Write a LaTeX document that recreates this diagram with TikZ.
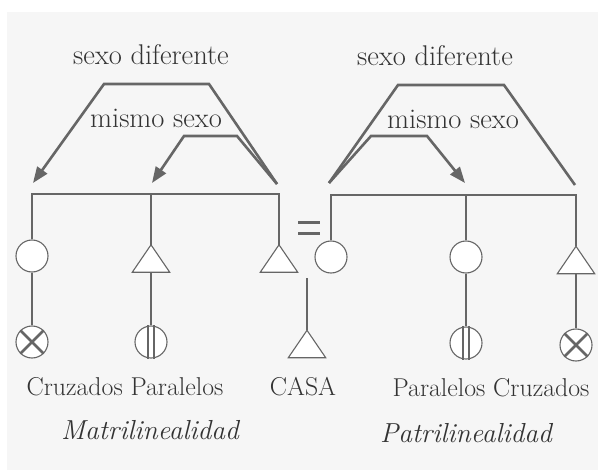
\documentclass[tikz,border=0pt]{standalone}
\usetikzlibrary{arrows.meta}
\definecolor{lc}{HTML}{666666}
\definecolor{tc}{HTML}{333333}
\definecolor{bg}{HTML}{F6F6F6}
\begin{document}
\begin{tikzpicture}[x=1pt,y=-1pt,
  ln/.style={line width=2.6pt, draw=lc, line join=miter},
  arr/.style={ln, -{Triangle[length=16pt,width=12pt]}},
  person/.style={circle, draw=lc, line width=1.1pt, fill=white, minimum size=32pt, inner sep=0pt},
  tribox/.style={minimum width=37pt, minimum height=27pt, inner sep=0pt},
  triline/.style={draw=lc, line width=1.1pt, fill=white, line join=miter},
  bar/.style={line width=1.8pt, draw=lc},
  cross/.style={line width=2.6pt, draw=lc},
  toplbl/.style={text=tc, font=\fontsize{28.5}{32}\selectfont, anchor=base, inner sep=0pt},
  botlbl/.style={text=tc, font=\fontsize{25.8}{30}\selectfont, anchor=base, inner sep=0pt},
  itlbl/.style={text=tc, font=\fontsize{27.5}{32}\selectfont\itshape, anchor=base, inner sep=0pt}
]
\useasboundingbox (0,0) rectangle (602,473);
\fill[white] (0,0) rectangle (602,473);
\fill[bg] (7,12) rectangle (598,470);

% ---------- left (matrilineal) ----------
\node[person] (c1) at (32,256) {};
\node[person] (x1) at (32,342) {};
\node[tribox] (t1) at (151,258.5) {};
\node[person] (p1) at (151,342) {};
\node[tribox] (t2) at (279,258.5) {};
\draw[triline] (t1.north) -- (t1.south west) -- (t1.south east) -- cycle;
\draw[triline] (t2.north) -- (t2.south west) -- (t2.south east) -- cycle;
\coordinate (s1) at (0,194);
\draw[ln] (c1.north) -- (c1.north |- s1) -- (t2.north |- s1) -- (t2.north);
\draw[ln] (t1.north |- s1) -- (t1.north);
\draw[ln] (c1.south) -- (x1.north);
\draw[ln] (t1.south) -- (p1.north);
\draw[cross] (x1.45) -- (x1.225) (x1.135) -- (x1.315);
\draw[bar] ([xshift=-3pt]p1.north) -- ([xshift=-3pt]p1.south)
           ([xshift=3pt]p1.north) -- ([xshift=3pt]p1.south);

% ---------- right (patrilineal) ----------
\node[person] (c2) at (331,257) {};
\node[person] (c3) at (466,257) {};
\node[person] (p2) at (466,343) {};
\node[tribox] (t3) at (576,260) {};
\node[person] (x2) at (576,345) {};
\draw[triline] (t3.north) -- (t3.south west) -- (t3.south east) -- cycle;
\coordinate (s2) at (0,195);
\draw[ln] (c2.north) -- (c2.north |- s2) -- (t3.north |- s2) -- (t3.north);
\draw[ln] (c3.north |- s2) -- (c3.north);
\draw[ln] (c3.south) -- (p2.north);
\draw[ln] (t3.south) -- (x2.north);
\draw[cross] (x2.45) -- (x2.225) (x2.135) -- (x2.315);
\draw[bar] ([xshift=-3pt]p2.north) -- ([xshift=-3pt]p2.south)
           ([xshift=3pt]p2.north) -- ([xshift=3pt]p2.south);

% ---------- centre ----------
\draw[line width=3pt, draw=lc] (298,222) -- (320,222) (298,233) -- (320,233);
\coordinate (casatop) at (307,278);
\node[tribox] (t4) at (307,344) {};
\draw[triline] (t4.north) -- (t4.south west) -- (t4.south east) -- cycle;
\draw[ln] (casatop) -- (t4.north);

% ---------- brackets ----------
\coordinate (Lj) at (277,184);
\coordinate (La) at (33,183);
\coordinate (Lb) at (152,183);
\draw[arr] (Lj) -- (209,84) -- (104,84) -- (La);
\draw[arr] (Lj) -- (237,136) -- (184,136) -- (Lb);
\coordinate (Rj) at (329,183);
\coordinate (Ra) at (575,185);
\coordinate (Rb) at (465,183);
\draw[ln] (Rj) -- (398,85) -- (504,85) -- (Ra);
\draw[arr] (Rj) -- (371,136) -- (427,136) -- (Rb);

% ---------- labels ----------
\node[toplbl] (sdL) at (151,65) {sexo diferente};
\node[toplbl] (msL) at (156,128) {mismo sexo};
\node[toplbl] (sdR) at (435,66) {sexo diferente};
\node[toplbl] (msR) at (453,129) {mismo sexo};
\node[botlbl] (cpL) at (125,395) {Cruzados Paralelos};
\node[botlbl] (casa) at (303,395) {CASA};
\node[botlbl] (pcR) at (491,396) {Paralelos Cruzados};
\node[itlbl] (mat) at (150,439) {Matrilinealidad};
\node[itlbl] (pat) at (466,442) {Patrilinealidad};
\end{tikzpicture}
\end{document}
